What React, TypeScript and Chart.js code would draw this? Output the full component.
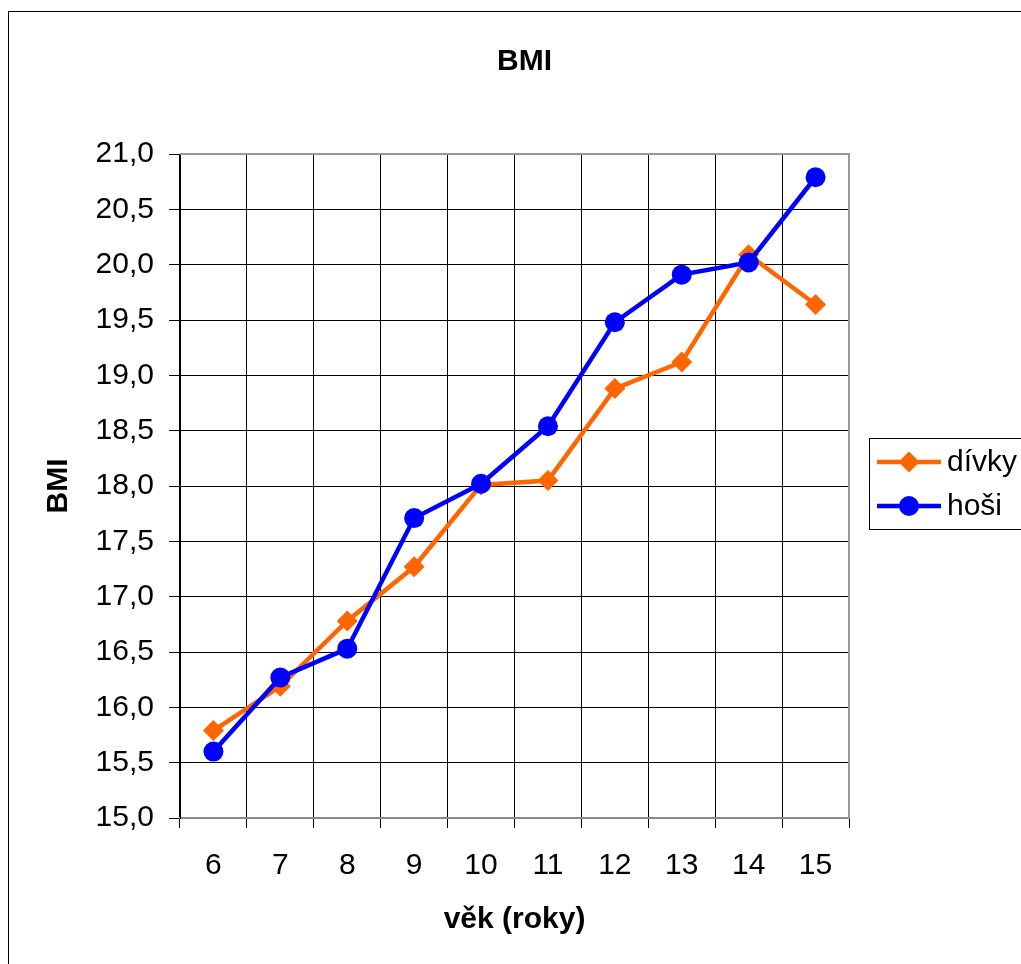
import React, { useEffect, useRef } from 'react';
import { Chart, registerables } from 'chart.js';

Chart.register(...registerables);

const ages = ['6', '7', '8', '9', '10', '11', '12', '13', '14', '15'];
const divky = [15.79, 16.19, 16.78, 17.27, 18.01, 18.05, 18.88, 19.12, 20.09, 19.64];
const hosi = [15.6, 16.27, 16.53, 17.71, 18.02, 18.54, 19.48, 19.91, 20.02, 20.79];
const seriesNames = ['dívky', 'hoši'];
const seriesColors = ['#FF6600', '#0000FF'];
const seriesMarkers = ['rectRot', 'circle'];
const chartTitle = 'BMI';
const yAxisTitle = 'BMI';
const xAxisTitle = 'věk (roky)';
const yMin = 15;
const yMax = 21;
const yStep = 0.5;

const FONT = "'Liberation Sans', Arial, Helvetica, sans-serif";

function drawMarker(ctx: CanvasRenderingContext2D, style: string, x: number, y: number, r: number, color: string) {
  ctx.fillStyle = color;
  ctx.beginPath();
  if (style === 'circle') {
    ctx.arc(x, y, r, 0, Math.PI * 2);
  } else {
    ctx.moveTo(x, y - r);
    ctx.lineTo(x + r, y);
    ctx.lineTo(x, y + r);
    ctx.lineTo(x - r, y);
    ctx.closePath();
  }
  ctx.fill();
}

const decorPlugin = {
  id: 'decor',
  beforeDraw(chart: any) {
    const ctx = chart.ctx;
    ctx.save();
    ctx.fillStyle = '#ffffff';
    ctx.fillRect(0, 0, chart.width, chart.height);
    ctx.restore();
  },
  afterDraw(chart: any) {
    const { ctx, chartArea: a } = chart;
    ctx.save();
    ctx.strokeStyle = '#999999';
    ctx.lineWidth = 2;
    ctx.beginPath();
    ctx.moveTo(a.left, a.top);
    ctx.lineTo(a.right, a.top);
    ctx.lineTo(a.right, a.bottom);
    ctx.stroke();

    ctx.strokeStyle = '#000000';
    ctx.lineWidth = 1;
    ctx.strokeRect(8.5, 11.5, 1100, 1100);

    ctx.fillStyle = '#000000';
    ctx.font = `bold 30px ${FONT}`;
    ctx.textAlign = 'center';
    ctx.textBaseline = 'middle';
    ctx.fillText(chartTitle, 524.5, 62);

    ctx.strokeStyle = '#000000';
    ctx.lineWidth = 1;
    ctx.strokeRect(869.5, 438.5, 200, 91);
    ctx.font = `30px ${FONT}`;
    ctx.textAlign = 'left';
    chart.data.datasets.forEach((ds: any, i: number) => {
      const cy = 462 + i * 44;
      ctx.strokeStyle = ds.borderColor;
      ctx.lineWidth = 4.5;
      ctx.beginPath();
      ctx.moveTo(877, cy);
      ctx.lineTo(941, cy);
      ctx.stroke();
      drawMarker(ctx, ds.pointStyle, 909, cy, ds.pointStyle === 'circle' ? 10 : 10.5, ds.borderColor);
      ctx.fillStyle = '#000000';
      ctx.fillText(ds.label, 947, cy + 1);
    });
    ctx.restore();
  },
};

export default function App() {
  const ref = useRef<HTMLCanvasElement | null>(null);

  useEffect(() => {
    document.body.style.margin = '0';
    document.body.style.overflow = 'hidden';
    Chart.defaults.color = '#000000';
    const canvas = ref.current!;
    const seriesValues = [divky, hosi];
    const chart = new Chart(canvas, {
      type: 'line',
      data: {
        labels: ages,
        datasets: seriesNames.map((name, i) => ({
          label: name,
          data: seriesValues[i],
          borderColor: seriesColors[i],
          backgroundColor: seriesColors[i],
          borderWidth: 4.5,
          pointStyle: seriesMarkers[i],
          pointRadius: seriesMarkers[i] === 'circle' ? 10 : 10.5,
          pointBorderWidth: 0,
          pointBackgroundColor: seriesColors[i],
          tension: 0,
          order: i === 0 ? 2 : 1,
        })),
      },
      options: {
        responsive: false,
        animation: false,
        devicePixelRatio: 1,
        layout: { padding: { left: 28, right: 172, top: 154, bottom: 0 } },
        plugins: {
          legend: { display: false },
          title: { display: false },
          tooltip: { enabled: false },
        },
        scales: {
          x: {
            type: 'category',
            offset: true,
            afterFit: (s: any) => {
              s.height = 146;
            },
            grid: {
              offset: true,
              color: '#000000',
              lineWidth: 1,
              tickLength: 10,
              drawTicks: true,
            },
            border: { display: true, color: '#888888', width: 2 },
            ticks: {
              color: '#000000',
              padding: 20,
              maxRotation: 0,
              font: { family: FONT, size: 30, lineHeight: 1.2 },
            },
            title: {
              display: true,
              text: xAxisTitle,
              color: '#000000',
              font: { family: FONT, size: 30, weight: 'bold', lineHeight: 1.2 },
              padding: { top: 0, bottom: 26 },
            },
          },
          y: {
            type: 'linear',
            min: yMin,
            max: yMax,
            afterFit: (s: any) => {
              s.width = 152;
            },
            grid: {
              color: '#000000',
              lineWidth: 1,
              tickLength: 11,
              drawTicks: true,
            },
            border: { display: true, color: '#000000', width: 1 },
            ticks: {
              stepSize: yStep,
              color: '#000000',
              padding: 15,
              font: { family: FONT, size: 30, lineHeight: 1.2 },
              callback: (v: any) => Number(v).toFixed(1).replace('.', ','),
            },
            title: {
              display: true,
              text: yAxisTitle,
              color: '#000000',
              font: { family: FONT, size: 30, weight: 'bold', lineHeight: 1.2 },
              padding: { top: 13, bottom: 0 },
            },
          },
        },
      },
      plugins: [decorPlugin],
    } as any);
    return () => chart.destroy();
  }, []);

  return <canvas ref={ref} width={1021} height={964} style={{ display: 'block', width: 1021, height: 964 }} />;
}
